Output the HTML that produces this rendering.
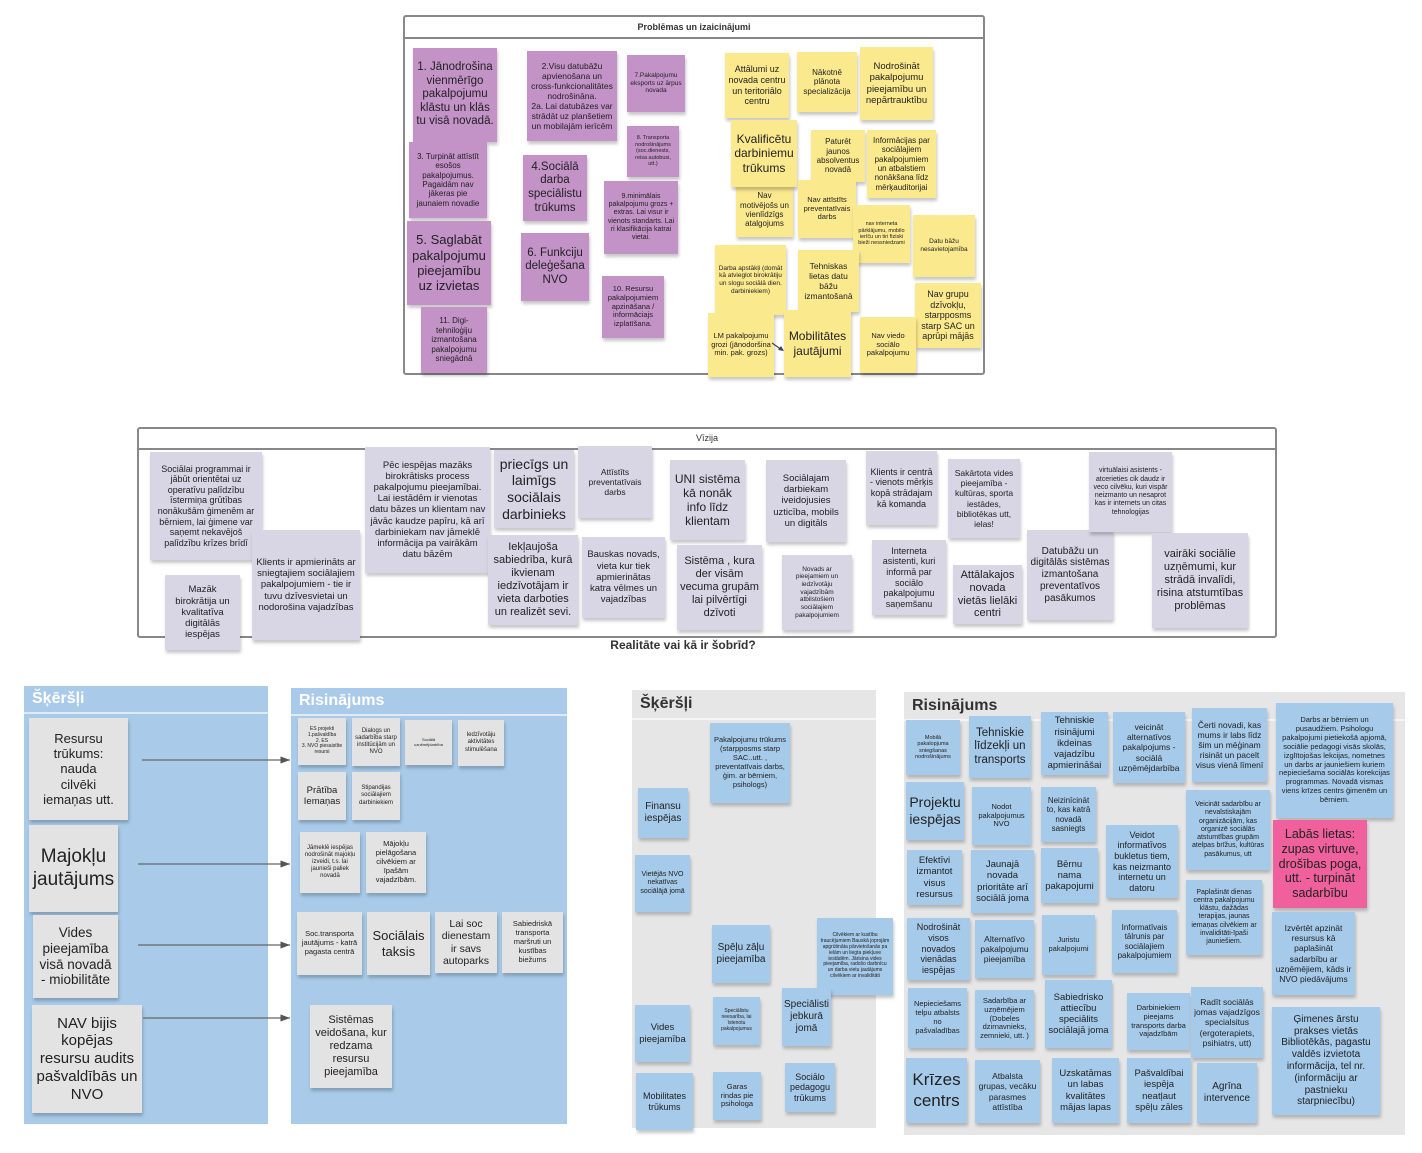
<!DOCTYPE html>
<html><head><meta charset="utf-8">
<style>
body{margin:0;width:1422px;height:1153px;background:#fff;position:relative;overflow:hidden;font-family:"Liberation Sans",sans-serif;}
.n{position:absolute;display:flex;align-items:center;justify-content:center;text-align:center;line-height:1.18;color:#222;box-sizing:border-box;padding:2px 3px;box-shadow:1px 3px 3px rgba(0,0,0,0.22);overflow:hidden;font-family:"Liberation Sans Narrow","Liberation Sans",sans-serif;}
.p{background:#c392c7;}
.y{background:#fbe98e;}
.l{background:#d8d5e4;}
.g{background:#e3e3e3;}
.b{background:#a6caea;}
.frame{position:absolute;border:2px solid #888;border-radius:3px;box-sizing:border-box;background:#fff;}
.ft{position:absolute;left:0;right:0;top:0;border-bottom:2px solid #888;text-align:center;font-weight:bold;font-size:9px;color:#333;}
.panel{position:absolute;box-sizing:border-box;}
.ph{position:absolute;left:0;right:0;top:0;font-weight:bold;font-size:16px;padding-left:8px;}
</style></head><body>

<!-- TOP FRAME -->
<div class="frame" style="left:403px;top:15px;width:582px;height:360px;"><div class="ft" style="height:20px;line-height:20px;">Problēmas un izaicinājumi</div></div>
<div class="n p" style="left:413px;top:48px;width:84px;height:94px;font-size:11.5px;">1. Jānodrošina vienmērīgo pakalpojumu klāstu un klās tu visā novadā.</div>
<div class="n p" style="left:527px;top:51px;width:90px;height:90px;font-size:8.5px;">2.Visu datubāžu apvienošana un cross-funkcionalitātes nodrošināna.<br>2a. Lai datubāzes var strādāt uz planšetiem un mobilajām ierīcēm</div>
<div class="n p" style="left:627px;top:55px;width:58px;height:57px;font-size:6.5px;">7.Pakalpojumu eksports uz ārpus novada</div>
<div class="n p" style="left:409px;top:142px;width:78px;height:76px;font-size:8px;">3. Turpināt attīstīt esošos pakalpojumus. Pagaidām nav jākeras pie jaunaiem novadie</div>
<div class="n p" style="left:627px;top:126px;width:52px;height:51px;font-size:5.5px;">8. Transporta nodrošinājums (soc.dienests, reisa autobusi, utt.)</div>
<div class="n p" style="left:523px;top:155px;width:64px;height:66px;font-size:11.5px;">4.Sociālā darba speciālistu trūkums</div>
<div class="n p" style="left:604px;top:181px;width:74px;height:73px;font-size:7px;">9.minimālais pakalpojumu grozs + extras. Lai visur ir vienots standarts. Lai ri klasifikācija katrai vietai.</div>
<div class="n p" style="left:407px;top:221px;width:84px;height:84px;font-size:13px;">5. Saglabāt pakalpojumu pieejamību uz izvietas</div>
<div class="n p" style="left:521px;top:233px;width:68px;height:68px;font-size:11.5px;">6. Funkciju deleģešana NVO</div>
<div class="n p" style="left:602px;top:276px;width:62px;height:62px;font-size:7.5px;">10. Resursu pakalpojumiem apzināšana / informāciajs izplatīšana.</div>
<div class="n p" style="left:421px;top:307px;width:66px;height:66px;font-size:8px;">11. Digi-tehniloģiju izmantošana pakalpojumu sniegādnā</div>

<div class="n y" style="left:725px;top:53px;width:64px;height:65px;font-size:9px;">Attālumi uz novada centru un teritoriālo centru</div>
<div class="n y" style="left:797px;top:52px;width:60px;height:60px;font-size:8px;">Nākotnē plānota specializācija</div>
<div class="n y" style="left:860px;top:47px;width:73px;height:73px;font-size:9.5px;">Nodrošināt pakalpojumu pieejamību un nepārtrauktību</div>
<div class="n y" style="left:736px;top:183px;width:57px;height:54px;font-size:8px;">Nav motivējošs un vienlīdzīgs atalgojums</div>
<div class="n y" style="left:731px;top:120px;width:66px;height:67px;font-size:12px;">Kvalificētu darbiniemu trūkums</div>
<div class="n y" style="left:811px;top:130px;width:54px;height:52px;font-size:8px;">Paturēt jaunos absolventus novadā</div>
<div class="n y" style="left:867px;top:130px;width:69px;height:68px;font-size:8px;">Informācijas par sociālajiem pakalpojumiem un atbalstiem nonākšana līdz mērķauditorijai</div>
<div class="n y" style="left:798px;top:180px;width:58px;height:58px;font-size:7.5px;">Nav attīstīts preventatīvais darbs</div>
<div class="n y" style="left:853px;top:205px;width:57px;height:58px;font-size:5.5px;">nav interneta pārklājumu, mobilo ierīču un tiri fiziski bieži nessniedzami</div>
<div class="n y" style="left:913px;top:215px;width:62px;height:62px;font-size:6.5px;">Datu bāžu nesavietojamība</div>
<div class="n y" style="left:715px;top:245px;width:71px;height:70px;font-size:6.5px;">Darba apstākļi (domāt kā atvieglot birokrātiju un slogu sociālā dien. darbiniekiem)</div>
<div class="n y" style="left:798px;top:250px;width:61px;height:62px;font-size:8.5px;">Tehniskas lietas datu bāžu izmantošanā</div>
<div class="n y" style="left:915px;top:283px;width:66px;height:65px;font-size:9px;">Nav grupu dzīvokļu, starpposms starp SAC un aprūpi mājās</div>
<div class="n y" style="left:708px;top:313px;width:66px;height:64px;font-size:7.5px;">LM pakalpojumu grozi (jānodoršina min. pak. grozs)</div>
<div class="n y" style="left:784px;top:310px;width:67px;height:67px;font-size:12px;">Mobilitātes jautājumi</div>
<div class="n y" style="left:860px;top:317px;width:56px;height:56px;font-size:7.5px;">Nav viedo sociālo pakalpojumu</div>
<svg style="position:absolute;left:770px;top:340px" width="16" height="14"><line x1="2" y1="3" x2="12" y2="10" stroke="#444" stroke-width="1.2"/><polygon points="14,11 8,10 11,6" fill="#444"/></svg>

<!-- VIZIJA -->
<div class="frame" style="left:137px;top:427px;width:1140px;height:211px;"><div class="ft" style="height:19px;line-height:19px;font-weight:normal;">Vīzija</div></div>
<div class="n l" style="left:150px;top:452px;width:112px;height:108px;font-size:9px;">Sociālai programmai ir jābūt orientētai uz operatīvu palīdzību īstermiņa grūtības nonākušām ģimenēm ar bērniem, lai ģimene var saņemt nekavējoš palīdzību krīzes brīdī</div>
<div class="n l" style="left:165px;top:575px;width:75px;height:75px;font-size:9.5px;">Mazāk birokrātija un kvalitatīva digitālās iespējas</div>
<div class="n l" style="left:252px;top:530px;width:108px;height:110px;font-size:9.5px;">Klients ir apmierināts ar sniegtajiem sociālajiem pakalpojumiem - tie ir tuvu dzīvesvietai un nodorošina vajadzības</div>
<div class="n l" style="left:365px;top:447px;width:125px;height:126px;font-size:9.5px;">Pēc iespējas mazāks birokrātisks process pakalpojumu pieejamībai. Lai iestādēm ir vienotas datu bāzes un klientam nav jāvāc kaudze papīru, kā arī darbiniekam nav jāmeklē informācija pa vairākām datu bāzēm</div>
<div class="n l" style="left:494px;top:450px;width:80px;height:78px;font-size:14px;">priecīgs un laimīgs sociālais darbinieks</div>
<div class="n l" style="left:578px;top:446px;width:74px;height:72px;font-size:8.5px;">Attīstīts preventatīvais darbs</div>
<div class="n l" style="left:488px;top:535px;width:90px;height:90px;font-size:11px;">Iekļaujoša sabiedrība, kurā ikvienam iedzīvotājam ir vieta darboties un realizēt sevi.</div>
<div class="n l" style="left:582px;top:537px;width:83px;height:81px;font-size:9.5px;">Bauskas novads, vieta kur tiek apmierinātas katra vēlmes un vajadzības</div>
<div class="n l" style="left:670px;top:460px;width:75px;height:80px;font-size:12px;">UNI sistēma kā nonāk info līdz klientam</div>
<div class="n l" style="left:677px;top:545px;width:85px;height:85px;font-size:11px;">Sistēma , kura der visām vecuma grupām lai pilvērtīgi dzīvoti</div>
<div class="n l" style="left:766px;top:460px;width:80px;height:82px;font-size:9.5px;">Sociālajam darbiekam iveidojusies uzticība, mobils un digitāls</div>
<div class="n l" style="left:782px;top:555px;width:70px;height:75px;font-size:6.5px;">Novads ar pieejamiem un iedzīvotāju vajadzībām atbilstošiem sociālajiem pakalpojumiem</div>
<div class="n l" style="left:866px;top:451px;width:71px;height:74px;font-size:9px;">Klients ir centrā - vienots mērķis kopā strādajam kā komanda</div>
<div class="n l" style="left:872px;top:540px;width:74px;height:75px;font-size:9px;">Interneta asistenti, kuri informā par sociālo pakalpojumu saņemšanu</div>
<div class="n l" style="left:948px;top:459px;width:72px;height:79px;font-size:8.5px;">Sakārtota vides pieejamība - kultūras, sporta iestādes, bibliotēkas utt, ielas!</div>
<div class="n l" style="left:953px;top:565px;width:69px;height:59px;font-size:11px;">Attālakajos novada vietās lielāki centri</div>
<div class="n l" style="left:1027px;top:530px;width:86px;height:90px;font-size:10px;">Datubāžu un digitālās sistēmas izmantošana preventatīvos pasākumos</div>
<div class="n l" style="left:1089px;top:452px;width:83px;height:80px;font-size:7px;">virtuālaisi asistents - atcerieties cik daudz ir veco cilvēku, kuri vispār neizmanto un nesaprot kas ir internets un citas tehnologijas</div>
<div class="n l" style="left:1152px;top:533px;width:96px;height:95px;font-size:11px;">vairāki sociālie uzņēmumi, kur strādā invalīdi, risina atstumtības problēmas</div>
<div style="position:absolute;left:560px;top:638px;width:246px;text-align:center;font-weight:bold;font-size:12px;color:#333;">Realitāte vai kā ir šobrīd?</div>

<!-- BOTTOM LEFT -->
<div class="panel" style="left:24px;top:686px;width:244px;height:438px;background:#a9cbe9;"><div class="ph" style="height:26px;line-height:26px;color:#fff;border-bottom:2px solid #dfeaf5;">Šķēršļi</div></div>
<div class="panel" style="left:291px;top:688px;width:276px;height:436px;background:#a9cbe9;"><div class="ph" style="height:26px;line-height:26px;color:#fff;border-bottom:2px solid #dfeaf5;">Risinājums</div></div>
<div class="n g" style="left:29px;top:718px;width:99px;height:102px;font-size:13px;padding:2px 12px;">Resursu trūkums: nauda cilvēki iemaņas utt.</div>
<div class="n g" style="left:29px;top:825px;width:89px;height:87px;font-size:19px;">Majokļu jautājums</div>
<div class="n g" style="left:33px;top:915px;width:85px;height:83px;font-size:13.5px;">Vides pieejamība visā novadā - miobilitāte</div>
<div class="n g" style="left:32px;top:1005px;width:110px;height:108px;font-size:15px;">NAV bijis kopējas resursu audits pašvaldībās un NVO</div>
<svg style="position:absolute;left:0;top:0" width="300" height="1153">
<defs><marker id="ah" markerWidth="8" markerHeight="6" refX="8" refY="3" orient="auto"><polygon points="0,0 8,3 0,6" fill="#555"/></marker></defs>
<line x1="142" y1="760" x2="290" y2="760" stroke="#666" stroke-width="1.2" marker-end="url(#ah)"/>
<line x1="138" y1="864" x2="290" y2="864" stroke="#666" stroke-width="1.2" marker-end="url(#ah)"/>
<line x1="138" y1="945" x2="290" y2="945" stroke="#666" stroke-width="1.2" marker-end="url(#ah)"/>
<line x1="143" y1="1018" x2="290" y2="1018" stroke="#666" stroke-width="1.2" marker-end="url(#ah)"/>
</svg>
<div class="n g" style="left:298px;top:718px;width:48px;height:47px;font-size:5px;">ES projekti<br>1.pašvaldība<br>2. ES<br>3. NVO piesaistīte resursi</div>
<div class="n g" style="left:352px;top:718px;width:48px;height:48px;font-size:6px;">Dialogs un sadarbība starp institūcijām un NVO</div>
<div class="n g" style="left:405px;top:720px;width:47px;height:45px;font-size:4px;">Sociālā uzņēmējdarbība</div>
<div class="n g" style="left:458px;top:720px;width:46px;height:46px;font-size:6px;">Iedzīvotāju aktivitātes stimulēšana</div>
<div class="n g" style="left:298px;top:772px;width:48px;height:48px;font-size:9.5px;">Prātība Iemaņas</div>
<div class="n g" style="left:352px;top:772px;width:48px;height:48px;font-size:6px;">Stipandijas sociālajiem darbiniekiem</div>
<div class="n g" style="left:300px;top:832px;width:60px;height:61px;font-size:6px;">Jāmeklē iespējas nodrošināt majokļu izveidi, t.s. lai jaunieši paliek novadā</div>
<div class="n g" style="left:366px;top:832px;width:60px;height:61px;font-size:7.5px;">Mājokļu pielāgošana cilvēkiem ar īpašām vajadzībām.</div>
<div class="n g" style="left:297px;top:912px;width:65px;height:63px;font-size:7.5px;">Soc.transporta jautājums - katrā pagasta centrā</div>
<div class="n g" style="left:367px;top:912px;width:63px;height:63px;font-size:13px;">Sociālais taksis</div>
<div class="n g" style="left:435px;top:912px;width:62px;height:61px;font-size:10.5px;">Lai soc dienestam ir savs autoparks</div>
<div class="n g" style="left:502px;top:912px;width:61px;height:61px;font-size:7.5px;">Sabiedriskā transporta maršruti un kustības biežums</div>
<div class="n g" style="left:310px;top:1005px;width:82px;height:83px;font-size:11px;">Sistēmas veidošana, kur redzama resursu pieejamība</div>

<!-- BOTTOM RIGHT -->
<div class="panel" style="left:632px;top:690px;width:244px;height:438px;background:#e6e6e6;"><div class="ph" style="height:28px;line-height:28px;color:#333;border-bottom:2px solid #f5f5f5;">Šķēršļi</div></div>
<div class="panel" style="left:904px;top:692px;width:501px;height:443px;background:#e6e6e6;"><div class="ph" style="height:27px;line-height:27px;color:#333;border-bottom:2px solid #f5f5f5;">Risinājums</div></div>
<div class="n b" style="left:710px;top:723px;width:80px;height:80px;font-size:7.5px;">Pakalpojumu trūkums (starpposms starp SAC..utt. , preventatīvais darbs, ģim. ar bērniem, psihologs)</div>
<div class="n b" style="left:638px;top:788px;width:50px;height:50px;font-size:10px;">Finansu iespējas</div>
<div class="n b" style="left:635px;top:855px;width:55px;height:57px;font-size:7px;">Vietējās NVO nekatīvas sociālājā jomā</div>
<div class="n b" style="left:712px;top:925px;width:58px;height:58px;font-size:10px;">Spēļu zāļu pieejamība</div>
<div class="n b" style="left:817px;top:918px;width:76px;height:77px;font-size:5px;">Cilvēkiem ar kustību traucējumiem Bauskā joprojām apgrūtināta pārvietošanās pa ielām un liegta piekļuve iestādēm. Jārisina vides pieejamība, radošo darbnīcu un darba vietu jautājums cilvēkiem ar invaliditāti</div>
<div class="n b" style="left:713px;top:997px;width:47px;height:48px;font-size:5px;">Speciālistu neesarība, lai īstenotu pakalpojumus</div>
<div class="n b" style="left:782px;top:988px;width:49px;height:58px;font-size:10px;">Speciālisti jebkurā jomā</div>
<div class="n b" style="left:635px;top:1005px;width:55px;height:57px;font-size:9.5px;">Vides pieejamība</div>
<div class="n b" style="left:636px;top:1073px;width:57px;height:57px;font-size:9px;">Mobilitates trūkums</div>
<div class="n b" style="left:713px;top:1072px;width:48px;height:48px;font-size:7.5px;">Garas rindas pie psihologa</div>
<div class="n b" style="left:785px;top:1063px;width:50px;height:49px;font-size:9px;">Sociālo pedagogu trūkums</div>

<div class="n b" style="left:906px;top:720px;width:54px;height:55px;font-size:5.5px;">Mobilā pakalopjuma sniegšanas nodrošinājums</div>
<div class="n b" style="left:969px;top:716px;width:62px;height:62px;font-size:11.5px;">Tehniskie līdzekļi un transports</div>
<div class="n b" style="left:1041px;top:712px;width:67px;height:63px;font-size:9.5px;">Tehniskie risinājumi ikdeinas vajadzību apmierināšai</div>
<div class="n b" style="left:1113px;top:712px;width:72px;height:71px;font-size:8.5px;">veicināt alternatīvos pakalpojums - sociālā uzņēmējdarbība</div>
<div class="n b" style="left:1192px;top:708px;width:75px;height:74px;font-size:8.5px;">Čerti novadi, kas mums ir labs līdz šim un mēģinam risināt un pacelt visus vienā līmenī</div>
<div class="n b" style="left:1276px;top:703px;width:117px;height:115px;font-size:7.5px;">Darbs ar bērniem un pusaudžiem. Psihologu pakalpojumi pietiekošā apjomā, sociālie pedagogi visās skolās, izglītojošas lekcijas, nometnes un darbs ar jauniešiem kuriem nepieciešama sociālās korekcijas programmas. Novadā vismas viens krīzes centrs ģimenēm un bērniem.</div>
<div class="n b" style="left:906px;top:782px;width:58px;height:58px;font-size:14px;">Projektu iespējas</div>
<div class="n b" style="left:972px;top:787px;width:59px;height:58px;font-size:7.5px;">Nodot pakalpojumus NVO</div>
<div class="n b" style="left:1041px;top:787px;width:55px;height:55px;font-size:8px;">Neizinīcināt to, kas katrā novadā sasniegts</div>
<div class="n b" style="left:1186px;top:790px;width:84px;height:80px;font-size:7px;">Veicināt sadarbību ar nevalstiskajām organizācijām, kas organizē sociālās atstumtības grupām atelpas brīžus, kultūras pasākumus, utt</div>
<div class="n" style="left:1273px;top:820px;width:94px;height:88px;font-size:12.5px;background:#f0609c;">Labās lietas: zupas virtuve, drošības poga, utt. - turpināt sadarbību</div>
<div class="n b" style="left:1106px;top:825px;width:72px;height:73px;font-size:9px;">Veidot informatīvos bukletus tiem, kas neizmanto internetu un datoru</div>
<div class="n b" style="left:907px;top:850px;width:55px;height:55px;font-size:9.5px;">Efektīvi izmantot visus resursus</div>
<div class="n b" style="left:971px;top:850px;width:63px;height:63px;font-size:9.5px;">Jaunajā novada prioritāte arī sociālā joma</div>
<div class="n b" style="left:1041px;top:848px;width:57px;height:55px;font-size:9.5px;">Bērnu nama pakapojumi</div>
<div class="n b" style="left:1186px;top:880px;width:76px;height:75px;font-size:7px;">Paplašināt dienas centra pakalpojumu klāstu, dažādas terapijas, jaunas iemaņas cilvēkiem ar invaliditāti-īpaši jauniešiem.</div>
<div class="n b" style="left:1272px;top:912px;width:83px;height:83px;font-size:8.5px;">Izvērtēt apzināt resursus kā paplašināt sadarbību ar uzņēmējiem, kāds ir NVO piedāvājums</div>
<div class="n b" style="left:907px;top:918px;width:63px;height:62px;font-size:9px;">Nodrošināt visos novados vienādas iespējas</div>
<div class="n b" style="left:975px;top:920px;width:59px;height:58px;font-size:8.5px;">Alternatīvo pakalpojumu pieejamība</div>
<div class="n b" style="left:1042px;top:915px;width:53px;height:60px;font-size:7.5px;">Juristu pakalpojumi</div>
<div class="n b" style="left:1112px;top:910px;width:65px;height:63px;font-size:8px;">Informatīvais tālrunis par sociālajiem pakalpojumiem</div>
<div class="n b" style="left:908px;top:988px;width:59px;height:60px;font-size:7.5px;">Nepieciešams telpu atbalsts no pašvaladības</div>
<div class="n b" style="left:975px;top:990px;width:59px;height:58px;font-size:7.5px;">Sadarbība ar uzņēmējiem (Dobeles dzirnavnieks, zemnieki, utt. )</div>
<div class="n b" style="left:1045px;top:980px;width:67px;height:68px;font-size:9.5px;">Sabiedrisko attiecību speciālits sociālajā joma</div>
<div class="n b" style="left:1127px;top:993px;width:63px;height:57px;font-size:7.5px;">Darbiniekiem pieejams transports darba vajadzībām</div>
<div class="n b" style="left:1191px;top:987px;width:72px;height:71px;font-size:8.5px;">Radīt sociālās jomas vajadzīgos specialsitus (ergoterapiets, psihiatrs, utt)</div>
<div class="n b" style="left:1272px;top:1007px;width:108px;height:108px;font-size:10px;padding:2px 8px;">Ģimenes ārstu prakses vietās Bibliotēkās, pagastu valdēs izvietota informācija, tel nr. (informāciju ar pastnieku starpniecību)</div>
<div class="n b" style="left:906px;top:1058px;width:61px;height:65px;font-size:17px;">Krīzes centrs</div>
<div class="n b" style="left:975px;top:1060px;width:65px;height:63px;font-size:8.5px;">Atbalsta grupas, vecāku parasmes attīstība</div>
<div class="n b" style="left:1052px;top:1058px;width:67px;height:65px;font-size:9.5px;">Uzskatāmas un labas kvalitātes mājas lapas</div>
<div class="n b" style="left:1127px;top:1058px;width:64px;height:65px;font-size:9.5px;">Pašvaldībai iespēja neatļaut spēļu zāles</div>
<div class="n b" style="left:1197px;top:1063px;width:60px;height:60px;font-size:10px;">Agrīna intervence</div>

</body></html>
